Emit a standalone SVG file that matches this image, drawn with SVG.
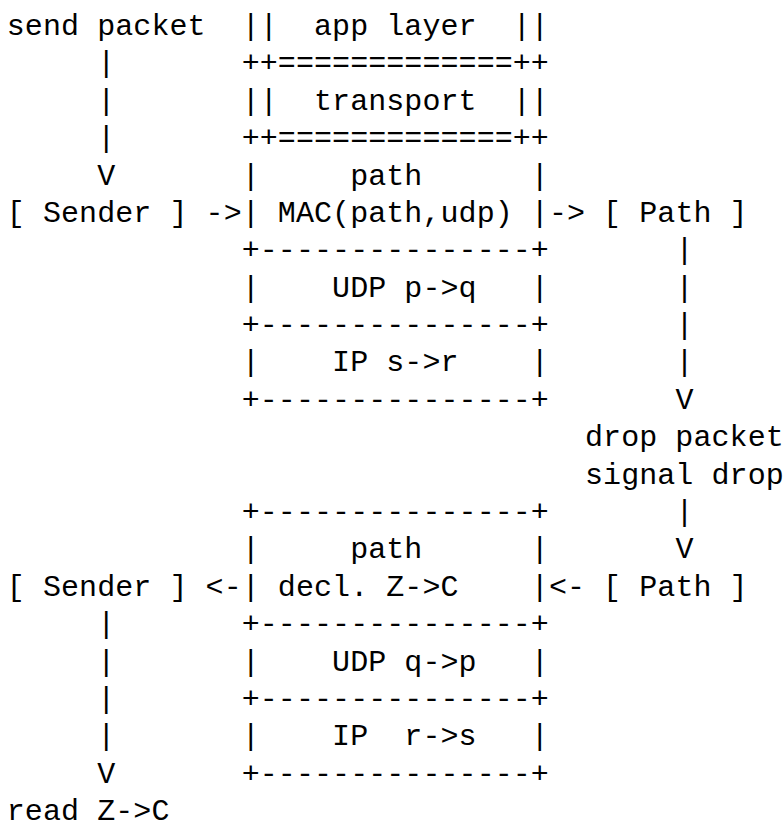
<svg xmlns="http://www.w3.org/2000/svg" width="784" height="833" viewBox="0 0 784 833">
  <style>
    text { font-family: "Liberation Mono", "DejaVu Sans Mono", monospace; font-size: 30px; letter-spacing: 0.07px; fill: #000; white-space: pre; }
  </style>
  <rect x="0" y="0" width="784" height="833" fill="#fff"/>

  <!-- character grid: x = 6.8 + 18.07*col, baseline = 35 + 37.38*row -->

  <g id="send-packet">
    <text x="6.8" y="35">send packet</text>
  </g>

  <g id="outbound-stack">
    <text x="241.7" y="35" xml:space="preserve">||  app layer  ||</text>
    <text x="241.7" y="72.4">++=============++</text>
    <text x="241.7" y="109.8" xml:space="preserve">||  transport  ||</text>
    <text x="241.7" y="147.1">++=============++</text>
    <text x="241.7" y="184.5" xml:space="preserve">|     path      |</text>
    <text x="241.7" y="221.9" xml:space="preserve">| MAC(path,udp) |</text>
    <text x="241.7" y="259.3">+---------------+</text>
    <text x="241.7" y="296.7" xml:space="preserve">|    UDP p-&gt;q   |</text>
    <text x="241.7" y="334.0">+---------------+</text>
    <text x="241.7" y="371.4" xml:space="preserve">|    IP s-&gt;r    |</text>
    <text x="241.7" y="408.8">+---------------+</text>
  </g>

  <g id="sender-out">
    <text x="6.8" y="221.9">[ Sender ]</text>
  </g>

  <g id="path-out">
    <text x="603.1" y="221.9">[ Path ]</text>
  </g>

  <g id="drop">
    <text x="585.0" y="446.2">drop packet</text>
    <text x="585.0" y="483.6">signal drop</text>
  </g>

  <g id="inbound-stack">
    <text x="241.7" y="520.9">+---------------+</text>
    <text x="241.7" y="558.3" xml:space="preserve">|     path      |</text>
    <text x="241.7" y="595.7" xml:space="preserve">| decl. Z-&gt;C    |</text>
    <text x="241.7" y="633.1">+---------------+</text>
    <text x="241.7" y="670.5" xml:space="preserve">|    UDP q-&gt;p   |</text>
    <text x="241.7" y="707.8">+---------------+</text>
    <text x="241.7" y="745.2" xml:space="preserve">|    IP  r-&gt;s   |</text>
    <text x="241.7" y="782.6">+---------------+</text>
  </g>

  <g id="sender-in">
    <text x="6.8" y="595.7">[ Sender ]</text>
  </g>

  <g id="path-in">
    <text x="603.1" y="595.7">[ Path ]</text>
  </g>

  <g id="read">
    <text x="6.8" y="820">read Z-&gt;C</text>
  </g>

  <g id="connectors">
    <!-- send packet down to Sender -->
    <text x="97.15" y="72.4">|</text>
    <text x="97.15" y="109.8">|</text>
    <text x="97.15" y="147.1">|</text>
    <text x="97.15" y="184.5">V</text>
    <!-- Sender into stack, stack out to Path -->
    <text x="205.6" y="221.9">-&gt;</text>
    <text x="548.9" y="221.9">-&gt;</text>
    <!-- Path down to drop -->
    <text x="675.4" y="259.3">|</text>
    <text x="675.4" y="296.7">|</text>
    <text x="675.4" y="334.0">|</text>
    <text x="675.4" y="371.4">|</text>
    <text x="675.4" y="408.8">V</text>
    <!-- drop down to Path -->
    <text x="675.4" y="520.9">|</text>
    <text x="675.4" y="558.3">V</text>
    <!-- Path back into stack, stack back to Sender -->
    <text x="548.9" y="595.7">&lt;-</text>
    <text x="205.6" y="595.7">&lt;-</text>
    <!-- Sender down to read -->
    <text x="97.15" y="633.1">|</text>
    <text x="97.15" y="670.5">|</text>
    <text x="97.15" y="707.8">|</text>
    <text x="97.15" y="745.2">|</text>
    <text x="97.15" y="782.6">V</text>
  </g>
</svg>
